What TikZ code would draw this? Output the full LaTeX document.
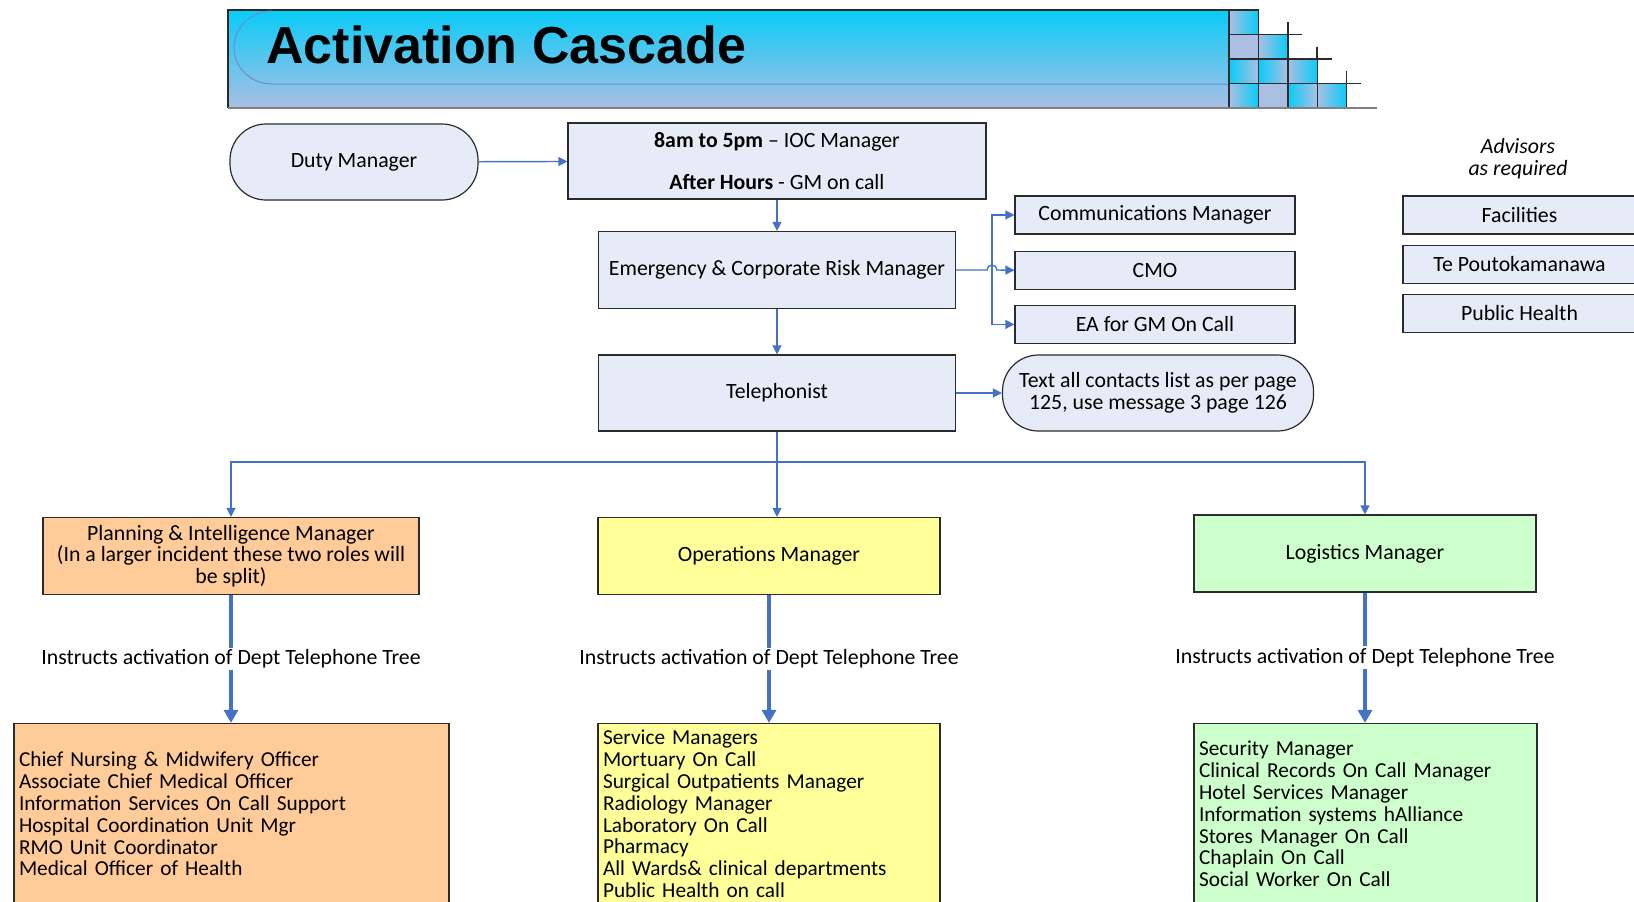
\documentclass[tikz,border=0pt]{standalone}
\usepackage{fontspec}
\setmainfont{Carlito}
\newfontfamily\headfont{Liberation Sans}
\usetikzlibrary{arrows.meta,positioning}
\definecolor{cascadeLine}{HTML}{4472C4}
\definecolor{cascadeBox}{HTML}{E6ECF7}
\definecolor{cascadeEdge}{HTML}{2B2B2B}
\definecolor{planOrange}{HTML}{FFCC99}
\definecolor{opsYellow}{HTML}{FFFF99}
\definecolor{logGreen}{HTML}{CCFFCC}
\definecolor{headCyan}{HTML}{08CCF8}
\definecolor{headLilac}{HTML}{ABBFE3}

\begin{document}
\begin{tikzpicture}[x=0.5pt,y=-0.5pt,>={Triangle[length=4.5pt,width=4.5pt]}]
\tikzstyle{box}=[draw=cascadeEdge,line width=.6pt,fill=cascadeBox,align=center,font=\fontsize{10.9}{10.9}\selectfont,inner sep=0pt]
\tikzstyle{pill}=[box,rounded corners=18pt]
\tikzstyle{smallbox}=[box,minimum width=140pt,minimum height=19pt]
\tikzstyle{advbox}=[box,minimum width=116.5pt,minimum height=19pt]
\tikzstyle{listbox}=[box,align=left,minimum height=90.5pt,inner xsep=2.5pt,font=\fontsize{10.65}{10.9}\selectfont]
\tikzstyle{conn}=[->,draw=cascadeLine,line width=.7pt]
\tikzstyle{bigconn}=[-{Triangle[length=6.5pt,width=7pt]},draw=cascadeLine,line width=1.6pt]
\tikzstyle{tree}=[fill=white,inner sep=1pt,font=\fontsize{10.9}{10.9}\selectfont]
\useasboundingbox (0,0) rectangle (1634,901);

\shade[top color=headCyan,bottom color=headLilac] (228,10) rectangle (1229,108);
\draw[cascadeEdge,line width=.7pt] (1229,10) -- (228,10) -- (228,108);
\draw[cascadeLine!80,line width=.5pt] (272,11) arc[start angle=270,end angle=90,x radius=38,y radius=36.5] -- (1229,84);
\foreach \c/\r/\lc/\rc in {1/1/headLilac/headCyan,1/2/headLilac/headLilac,2/2/headLilac/headCyan,
  1/3/headCyan/headLilac,2/3/headCyan/headLilac,3/3/headLilac/headCyan,
  1/4/headLilac/headCyan,2/4/headLilac/headLilac,3/4/headCyan/headLilac,4/4/headLilac/headCyan}
  {\draw[cascadeEdge,line width=.7pt,left color=\lc,right color=\rc] ({1229+(\c-1)*29.4},{10+(\r-1)*24.5}) rectangle ++(29.4,24.5);}
\draw[cascadeEdge,line width=.7pt] (1288,22) -- (1288,34.5) -- (1302,34.5);
\draw[cascadeEdge,line width=.7pt] (1317,47) -- (1317,59) -- (1332,59);
\draw[cascadeEdge,line width=.7pt] (1346.6,71) -- (1346.6,83.5) -- (1361,83.5);
\draw[gray,line width=1.2pt] (228,108) -- (1377,108);
\node[font=\headfont\bfseries\fontsize{26}{30}\selectfont,anchor=west,inner sep=0pt] (title) at (266,45) {Activation Cascade};

\node[pill,minimum width=124pt,minimum height=38pt] (duty) at (354,162) {Duty Manager};
\node[box,minimum width=209pt,minimum height=38pt] (ioc) at (777,161) {\textbf{8am to 5pm} – IOC Manager\\[10pt]\textbf{After Hours} - GM on call};
\node[box,minimum width=178.5pt,minimum height=38.5pt] (erm) at (777,270) {Emergency \& Corporate Risk Manager};
\node[box,minimum width=178.5pt,minimum height=38pt] (tel) at (777,393) {Telephonist};
\node[smallbox] (comm) at (1155,215) {Communications Manager};
\node[smallbox,below=8pt of comm] (cmo) {CMO};
\node[smallbox,below=7.5pt of cmo] (ea) {EA for GM On Call};
\node[pill,minimum width=155.5pt,minimum height=38pt] (textall) at (1158,393) {Text all contacts list as per page\\125, use message 3 page 126};

\node[font=\fontsize{10.9}{11}\selectfont\itshape,align=center] (advisors) at (1518,159) {Advisors\\as required};
\node[advbox] (fac) at (1519.5,215) {Facilities};
\node[advbox,below=5pt of fac] (tep) {Te Poutokamanawa};
\node[advbox,below=5pt of tep] (ph) {Public Health};

\node[box,fill=planOrange,minimum width=188pt,minimum height=38.5pt] (plan) at (231,556) {Planning \& Intelligence Manager\\(In a larger incident these two roles will\\be split)};
\node[box,fill=opsYellow,minimum width=171pt,minimum height=38.5pt] (ops) at (769,556) {Operations Manager};
\node[box,fill=logGreen,minimum width=171pt,minimum height=38.5pt] (log) at (1365,553.5) {Logistics Manager};

\node[listbox,fill=planOrange,text width=212.5pt] (planlist) at (231.5,814) {Chief Nursing \& Midwifery Officer\\Associate Chief Medical Officer\\Information Services On Call Support\\Hospital Coordination Unit Mgr\\RMO Unit Coordinator\\Medical Officer of Health};
\node[listbox,fill=opsYellow,text width=166pt] (opslist) at (769,814) {Service Managers\\Mortuary On Call\\Surgical Outpatients Manager\\Radiology Manager\\Laboratory On Call\\Pharmacy\\All Wards\& clinical departments\\Public Health on call};
\node[listbox,fill=logGreen,text width=166.5pt] (loglist) at (1365.5,814) {Security Manager\\Clinical Records On Call Manager\\Hotel Services Manager\\Information systems hAlliance\\Stores Manager On Call\\Chaplain On Call\\Social Worker On Call};

\coordinate (branch) at (992,270);
\coordinate (bus) at (777,462);
\draw[conn] (duty) -- (ioc);
\draw[conn] (ioc) -- (erm);
\draw[conn] (erm) -- (tel);
\draw[conn] (erm.east) -- (987,270) arc[start angle=180,end angle=360,radius=5] -- (cmo.west);
\draw[conn] (branch) |- (comm.west);
\draw[conn] (branch) |- (ea.west);
\draw[conn] (tel) -- (textall);
\draw[conn] (tel.south) -- (tel.south |- ops.north);
\draw[conn] (bus) -| (plan.north);
\draw[conn] (bus) -| (log.north);
\draw[bigconn] (plan.south) -- node[tree] {Instructs activation of Dept Telephone Tree} (plan.south |- planlist.north);
\draw[bigconn] (ops.south) -- node[tree] {Instructs activation of Dept Telephone Tree} (ops.south |- opslist.north);
\draw[bigconn] (log.south) -- node[tree] {Instructs activation of Dept Telephone Tree} (log.south |- loglist.north);
\end{tikzpicture}
\end{document}
